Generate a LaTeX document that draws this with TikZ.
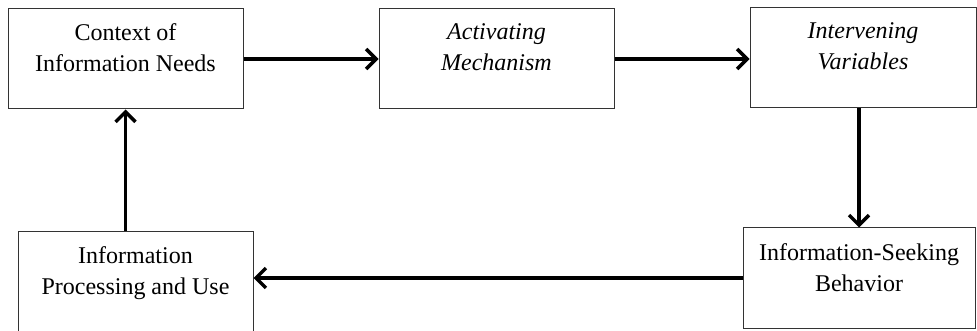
\documentclass[tikz,border=0pt]{standalone}
\usepackage{fontspec}
\setmainfont{Liberation Serif}
\usetikzlibrary{positioning, arrows.meta}
\tikzset{
	blk/.style={draw=black!80, line width=1pt, minimum width=235pt, minimum height=100pt, inner sep=0pt},
	lbl/.style={align=center, inner sep=0pt, font=\fontsize{24}{31}\selectfont},
	flow/.style={-{Straight Barb[length=10pt,width=20pt]}, line width=3.5pt},
}

\begin{document}
\begin{tikzpicture}
		\useasboundingbox (0pt,0pt) rectangle (977pt,-331pt);

		% boxes
		\node[blk] (ctx) at (125.5pt,-59pt) {};
		\node[blk] (act) at (496.5pt,-59pt) {};
		\node[blk, minimum width=226pt] (var) at (863pt,-58pt) {};
		\node[blk, minimum width=232pt] (seek) at (859pt,-278pt) {};
		\node[blk] (proc) at (135.5pt,-282pt) {};

		\node[lbl, below=15pt of ctx.north] (ctxtxt) {Context of\\Information Needs};
		\node[lbl, below=15pt of act.north] (acttxt) {\itshape Activating\\\itshape Mechanism};
		\node[lbl, below=15pt of var.north] (vartxt) {\itshape Intervening\\\itshape Variables};
		\node[lbl, below=16pt of seek.north] (seektxt) {Information-Seeking\\Behavior};
		\node[lbl, below=15pt of proc.north] (proctxt) {Information\\Processing and Use};

		% connectors
		\draw[flow] (ctx.east) -- (ctx.east -| act.west);
		\draw[flow] (act.east) -- (act.east -| var.west);
		\draw[flow] (var.south -| seek.north) -- (seek.north);
		\draw[flow] (seek.west) -- (seek.west -| proc.east);
		\draw[flow] (proc.north -| ctx.south) -- (ctx.south);
	\end{tikzpicture}
\end{document}
